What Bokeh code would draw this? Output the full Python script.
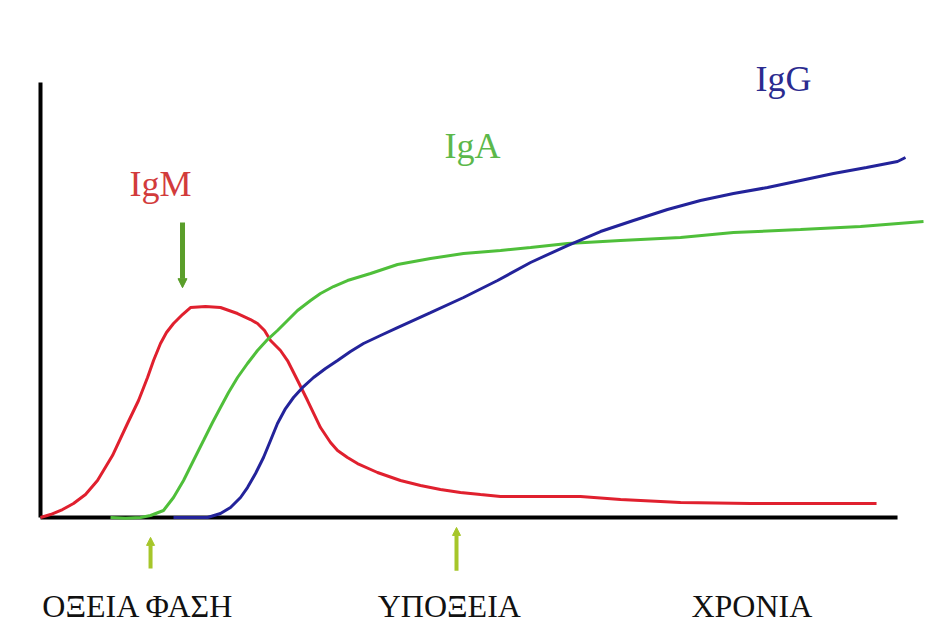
from bokeh.plotting import figure
from bokeh.models import Range1d, Arrow, NormalHead
from bokeh.core.properties import value
from bokeh.embed import file_html
from bokeh.resources import INLINE

# ---- data (time on x, antibody level on y; axis spans 0..100) ----
igm_x = [0, 1.17, 2.57, 3.85, 5.25, 6.65, 8.40, 10.15, 11.44, 12.49, 13.19, 14.00, 14.70, 15.52,
         16.57, 17.50, 19.25, 21.00, 22.99, 24.50, 25.32, 26.14, 26.84, 28.00, 28.82, 30.00,
         31.16, 32.67, 33.84, 34.66, 35.82, 36.99, 39.32, 42.00, 44.34, 46.67, 49.00, 51.34,
         53.68, 58.34, 63.01, 67.68, 74.68, 82.85, 91.02, 97.55]
igm_y = [0, 0.69, 1.85, 3.24, 5.32, 8.56, 14.35, 21.76, 27.08, 32.41, 36.34, 40.28, 42.82, 44.91,
         46.99, 48.61, 48.84, 48.61, 47.22, 45.83, 44.91, 43.29, 40.97, 38.66, 36.34, 31.71,
         27.08, 20.83, 17.36, 15.51, 13.89, 12.50, 10.42, 8.56, 7.41, 6.48, 5.79, 5.32,
         4.86, 4.86, 4.86, 4.17, 3.47, 3.24, 3.24, 3.24]

iga_x = [8.17, 9.92, 11.67, 12.84, 14.35, 15.52, 16.69, 17.85, 19.02, 20.07, 21.00, 21.94, 22.99,
         24.15, 25.32, 26.49, 27.65, 28.82, 29.99, 31.51, 32.67, 34.19, 35.82, 38.51, 41.66,
         45.51, 49.36, 53.68, 57.18, 61.49, 67.68, 74.68, 80.86, 88.68, 95.68, 103.03]
iga_y = [0, -0.2, 0, 0.46, 1.62, 4.63, 8.56, 13.19, 17.82, 21.99, 25.46, 28.94, 32.41,
         35.65, 38.66, 41.20, 43.29, 45.60, 47.92, 50.23, 51.85, 53.47, 54.86, 56.48, 58.56,
         59.95, 61.11, 61.81, 62.50, 63.43, 64.12, 64.81, 65.97, 66.67, 67.36, 68.52]

igg_x = [15.52, 19.49, 21.00, 22.17, 23.34, 24.15, 25.09, 26.02, 26.84, 27.65, 28.59, 29.52, 30.69,
         31.86, 33.26, 34.66, 36.17, 37.69, 39.67, 41.66, 45.51, 49.36, 53.33, 57.18, 61.49,
         65.34, 69.19, 73.16, 77.01, 80.86, 84.83, 88.68, 92.53, 96.38, 100.0, 100.93]
igg_y = [0, 0, 0.93, 2.31, 4.63, 6.94, 10.19, 13.89, 17.82, 21.76, 25.23, 27.78, 30.32,
         32.41, 34.49, 36.34, 38.43, 40.28, 42.13, 43.98, 47.45, 50.93, 54.86, 59.03, 62.96,
         66.20, 68.75, 71.30, 73.38, 75.00, 76.39, 78.01, 79.63, 81.02, 82.41, 83.33]

series_names = ["IgM", "IgA", "IgG"]
label_x = [14.0, 50.4, 86.7]
label_y = [77.3, 86.1, 101.6]

phase_labels = ["ΟΞΕΙΑ ΦΑΣΗ", "ΥΠΟΞΕΙΑ", "ΧΡΟΝΙΑ"]
phase_x = [11.4, 47.7, 83.0]
phase_y = -20.6

# phase marker arrows (x, start y, end y)
peak_arrow = (16.57, 68.3, 53.2)
phase_arrows = [(12.84, -11.8, -4.6), (48.54, -12.3, -2.3)]

# ---- figure ----
p = figure(width=932, height=626, output_backend="svg", toolbar_location=None,
           x_range=Range1d(-4.667, 104.08), y_range=Range1d(-25.23, 119.68),
           min_border=0, x_axis_type=None, y_axis_type=None)
p.grid.visible = False
p.outline_line_color = None
p.background_fill_color = "white"
p.border_fill_color = "white"

# axes as lines
p.line([0, 0], [0, 100.7], line_color="black", line_width=4)
p.line([0, 100], [0, 0], line_color="black", line_width=4)

red, green, blue = "#e0202e", "#4fbf3a", "#23239a"
p.line(igm_x, igm_y, line_color=red, line_width=3)
p.line(iga_x, iga_y, line_color=green, line_width=3)
p.line(igg_x, igg_y, line_color=blue, line_width=3)

label_colors = ["#d23b3b", "#5cb84a", "#2b2b8f"]
p.text(x=label_x, y=label_y, text=series_names, text_color=label_colors,
       text_font=value("Liberation Serif"), text_font_size="36px",
       text_align="center", text_baseline="middle")

p.text(x=phase_x, y=[phase_y] * 3, text=phase_labels, text_color="#111111",
       text_font=value("Liberation Serif"), text_font_size="32px",
       text_align="center", text_baseline="middle")

ax, ay0, ay1 = peak_arrow
p.add_layout(Arrow(end=NormalHead(size=9, fill_color="#5a9e2a", line_color="#5a9e2a"),
                   x_start=ax, y_start=ay0, x_end=ax, y_end=ay1,
                   line_color="#5a9e2a", line_width=5))
for (bx, by0, by1) in phase_arrows:
    p.add_layout(Arrow(end=NormalHead(size=8, fill_color="#a6c62a", line_color="#a6c62a"),
                       x_start=bx, y_start=by0, x_end=bx, y_end=by1,
                       line_color="#a6c62a", line_width=4))

open("out.html", "w").write(file_html(p, INLINE))
